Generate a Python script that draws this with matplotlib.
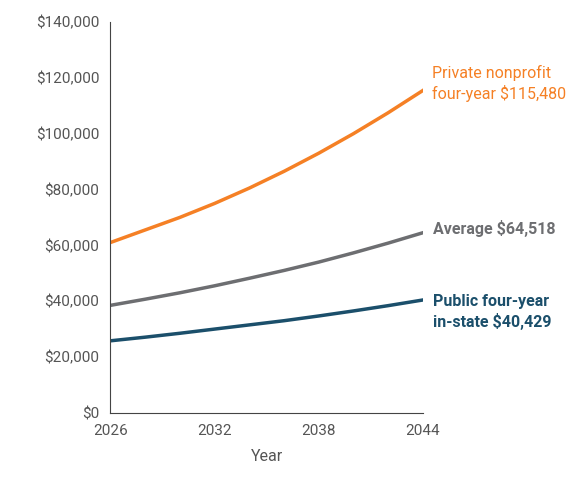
import matplotlib
matplotlib.use("Agg")
import matplotlib.pyplot as plt
from matplotlib.ticker import FuncFormatter

years = [2026, 2028, 2030, 2032, 2034, 2036, 2038, 2040, 2042, 2044]
private = [61000, 65500, 70000, 75000, 80500, 86500, 93000, 100000, 107500, 115480]
average = [38500, 40700, 43000, 45500, 48200, 51000, 54000, 57300, 60800, 64518]
public = [25800, 27100, 28500, 30000, 31500, 33000, 34700, 36500, 38400, 40429]
xticks = [2026, 2032, 2038, 2044]

plt.rcParams['font.family'] = ['Roboto', 'DejaVu Sans']
fig = plt.figure(figsize=(5.81, 4.88), dpi=100)
ax = fig.add_axes([0.19, 0.154, 0.538, 0.801])
c_priv, c_avg, c_pub = '#f58025', '#6d6e71', '#1b4f6b'
ax.plot(years, private, color=c_priv, lw=2.5)
ax.plot(years, average, color=c_avg, lw=2.5)
ax.plot(years, public, color=c_pub, lw=2.5)
ax.set_xlim(2026, 2044)
ax.set_ylim(0, 140000)
ax.set_xticks(xticks)
ax.set_yticks(range(0, 140001, 20000))
ax.yaxis.set_major_formatter(FuncFormatter(lambda v, p: f"${v:,.0f}"))
ax.tick_params(length=0, labelsize=11, colors='#555555', pad=8)
for s in ['top', 'right']:
    ax.spines[s].set_visible(False)
for s in ['left', 'bottom']:
    ax.spines[s].set_color('#444444')
ax.set_xlabel('Year', fontsize=11.5, color='#555555', labelpad=8)
ax.text(2044.5, 118000, 'Private nonprofit\nfour-year $115,480', color=c_priv,
        fontsize=11.5, va='center', ha='left', clip_on=False, linespacing=1.3)
ax.text(2044.6, 66000, 'Average $64,518', color=c_avg, fontsize=11.5,
        va='center', ha='left', clip_on=False, fontweight='bold')
ax.text(2044.6, 36000, 'Public four-year\nin-state $40,429', color=c_pub, fontsize=11.5,
        va='center', ha='left', clip_on=False, fontweight='bold', linespacing=1.3)
fig.savefig('out.png', dpi=100)
